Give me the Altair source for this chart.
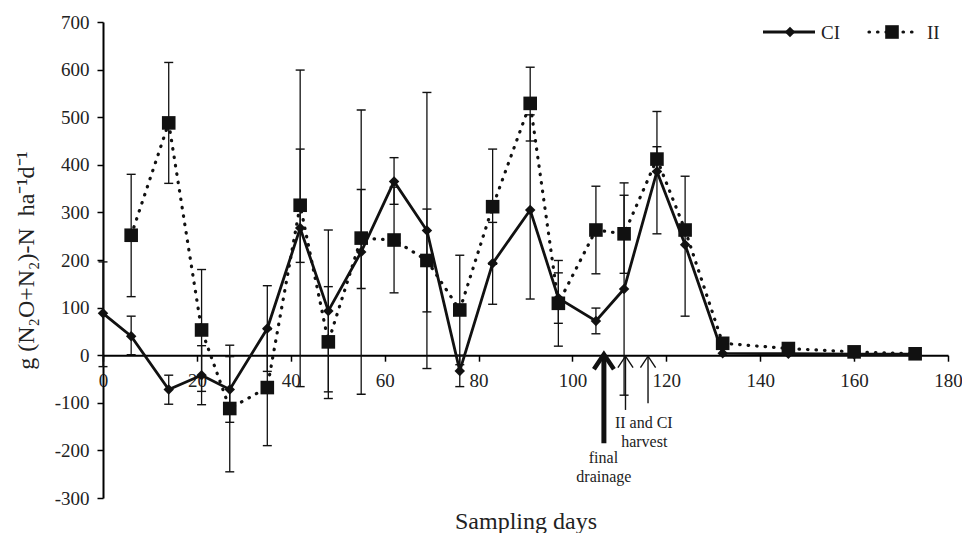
import altair as alt
import pandas as pd

# ---------------- data ----------------
ci_days = [0, 6, 14, 21, 27, 35, 42, 48, 55, 62, 69, 76, 83, 91, 97, 105, 111, 118, 124, 132, 146, 160, 173]
ci_vals = [88, 40, -72, -42, -72, 56, 267, 93, 217, 365, 262, -33, 193, 305, 120, 72, 139, 386, 232, 4, 3, 2, 2]
ci_hi = [196, 82, -42, 20, -3, 146, 599, 263, 515, 415, 552, 0, 279, 505, 173, 99, 362, 512, 376, None, None, None, None]
ci_lo = [-24, 1, -103, -104, -141, -34, -66, -77, -82, 317, -28, -66, 107, 118, 67, 45, -84, 255, 82, None, None, None, None]

ii_days = [6, 14, 21, 27, 35, 42, 48, 55, 62, 69, 76, 83, 91, 97, 105, 111, 118, 124, 132, 146, 160, 173]
ii_vals = [252, 488, 53, -112, -68, 315, 28, 246, 242, 199, 95, 312, 529, 109, 263, 255, 412, 263, 25, 14, 7, 3]
ii_hi = [380, 615, 180, 21, 54, 433, 144, 348, 353, 307, 210, 433, 605, 199, 355, 336, 438, 270, None, None, None, None]
ii_lo = [123, 361, -76, -245, -190, 195, -91, 140, 131, 91, -20, 191, 450, 19, 171, 172, 386, 256, None, None, None, None]

x_ticks = [0, 20, 40, 60, 80, 100, 120, 140, 160, 180]
y_ticks = [-300, -200, -100, 0, 100, 200, 300, 400, 500, 600, 700]

# annotations (data units)
arrow_days = [106.7, 111.3, 116.1]
arrow_base = [-185, -115, -101]
arrow_tip = [2, -2, -2]
arrow_kind = ["thick", "thin", "thin"]
note_lines = ["final", "drainage", "II and CI", "harvest"]
note_days = [106.6, 106.7, 115.2, 115.3]
note_vals = [-217, -256, -142, -183]

legend_labels = ["CI", "II"]

FONT = "Liberation Serif"
INK = "#111111"
TXT = "#222222"

ci = pd.DataFrame({"day": ci_days, "value": ci_vals, "lo": ci_lo, "hi": ci_hi})
ii = pd.DataFrame({"day": ii_days, "value": ii_vals, "lo": ii_lo, "hi": ii_hi})
err = pd.concat([ci, ii]).dropna()
caps = pd.concat([
    err[["day", "lo"]].rename(columns={"lo": "value"}),
    err[["day", "hi"]].rename(columns={"hi": "value"}),
])
arrows = pd.DataFrame({"day": arrow_days, "value": arrow_tip, "base": arrow_base, "kind": arrow_kind})
arrows["shaft_top"] = arrows["value"] - 4
notes = pd.DataFrame({"day": note_days, "value": note_vals, "label": note_lines})

xs = alt.Scale(domain=[0, 180], nice=False, zero=False)
ys = alt.Scale(domain=[-300, 700], nice=False, zero=False)

xaxis = alt.Axis(values=x_ticks, offset=-142.8, title="Sampling days", titleY=173,
                 titleBaseline="alphabetic", tickSize=6, labelPadding=10, grid=False,
                 domainColor="black", domainWidth=2, tickColor="black", tickWidth=1.5,
                 labelFont=FONT, labelFontSize=19, titleFont=FONT, titleFontSize=24,
                 titleFontWeight="normal", labelColor=TXT, titleColor=TXT, labelOverlap=False,
                 labelFlush=False, labelExpr="'' + datum.value")
yaxis = alt.Axis(values=y_ticks, tickSize=6, labelPadding=8, grid=False,
                 title="g (N\u2082O+N\u2082)-N\u00a0 ha\u207b\u00b9d\u207b\u00b9",
                 titleX=-70, titleY=238, titleAngle=270, titleBaseline="alphabetic",
                 titleAlign="center", domainColor="black", domainWidth=2, tickColor="black",
                 tickWidth=1.5, labelFont=FONT, labelFontSize=19, titleFont=FONT,
                 titleFontSize=24, titleFontWeight="normal", labelColor=TXT, titleColor=TXT,
                 labelOverlap=False, labelExpr="'' + datum.value")

X = alt.X("day:Q", scale=xs, axis=xaxis)
Y = alt.Y("value:Q", scale=ys, axis=yaxis)

bars = alt.Chart(err).mark_rule(color=INK, strokeWidth=1.3).encode(
    x=X, y=alt.Y("lo:Q", scale=ys, axis=yaxis), y2="hi:Q")
cap_marks = alt.Chart(caps).mark_tick(orient="horizontal", size=9, thickness=1.4, color=INK, opacity=1).encode(x=X, y=Y)

ci_line = alt.Chart(ci).mark_line(color=INK, strokeWidth=2.8).encode(x=X, y=Y)
ii_line = alt.Chart(ii).mark_line(color=INK, strokeWidth=3.2, strokeDash=[0.5, 8], strokeCap="round").encode(x=X, y=Y)
ci_pts = alt.Chart(ci).mark_point(shape="diamond", filled=True, size=110, color=INK, opacity=1).encode(x=X, y=Y)
ii_pts = alt.Chart(ii).mark_point(shape="square", filled=True, size=185, color=INK, opacity=1).encode(x=X, y=Y)

thick = arrows[arrows["kind"] == "thick"]
thin = arrows[arrows["kind"] == "thin"]
shaft_thick = alt.Chart(thick).mark_rule(color=INK, strokeWidth=5).encode(
    x=X, y=alt.Y("base:Q", scale=ys, axis=yaxis), y2="shaft_top:Q")
shaft_thin = alt.Chart(thin).mark_rule(color=INK, strokeWidth=1.4).encode(
    x=X, y=alt.Y("base:Q", scale=ys, axis=yaxis), y2="value:Q")
CHEV = "M-1,1.5L0,0L1,1.5"
head_thick = alt.Chart(thick).mark_point(shape=CHEV, filled=False, size=400, strokeWidth=4.5,
                                         color=INK, opacity=1, strokeJoin="miter").encode(x=X, y=Y)
head_thin = alt.Chart(thin).mark_point(shape=CHEV, filled=False, size=230, strokeWidth=1.4,
                                       color=INK, opacity=1, strokeJoin="miter").encode(x=X, y=Y)
note_text = alt.Chart(notes).mark_text(font=FONT, fontSize=16, color=TXT, baseline="middle",
                                       align="center").encode(x=X, y=Y, text="label:N")

# legend (top right)
lg_ci = pd.DataFrame({"label": [legend_labels[0]]})
lg_ii = pd.DataFrame({"label": [legend_labels[1]]})
leg = [
    alt.Chart(lg_ci).mark_rule(color=INK, strokeWidth=2.8).encode(x=alt.value(660), x2=alt.value(712), y=alt.value(10)),
    alt.Chart(lg_ci).mark_point(shape="diamond", filled=True, size=110, color=INK, opacity=1).encode(x=alt.value(687), y=alt.value(10)),
    alt.Chart(lg_ci).mark_text(font=FONT, fontSize=19, color=TXT, align="left", baseline="middle").encode(x=alt.value(718), y=alt.value(11), text="label:N"),
    alt.Chart(lg_ii).mark_rule(color=INK, strokeWidth=3.2, strokeDash=[0.5, 8], strokeCap="round").encode(x=alt.value(766), x2=alt.value(815), y=alt.value(10)),
    alt.Chart(lg_ii).mark_point(shape="square", filled=True, size=185, color=INK, opacity=1).encode(x=alt.value(789), y=alt.value(10)),
    alt.Chart(lg_ii).mark_text(font=FONT, fontSize=19, color=TXT, align="left", baseline="middle").encode(x=alt.value(824), y=alt.value(11), text="label:N"),
]

chart = alt.layer(
    bars, cap_marks, ci_line, ci_pts, ii_line, ii_pts,
    shaft_thick, shaft_thin, head_thick, head_thin, note_text, *leg
).properties(
    width=845, height=476,
    padding={"left": 95, "top": 14, "right": 14, "bottom": 35},
    autosize=alt.AutoSizeParams(type="none"),
    background="white",
).configure_view(stroke=None)

chart.save("out.html", embed_options={"renderer": "svg", "actions": False})
